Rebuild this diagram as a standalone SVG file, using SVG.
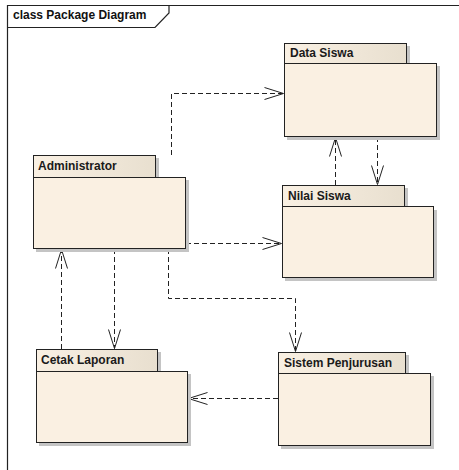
<svg xmlns="http://www.w3.org/2000/svg" width="459" height="470" viewBox="0 0 459 470">
  <defs>
    <linearGradient id="tabg" x1="0" y1="0" x2="1" y2="0">
      <stop offset="0" stop-color="#f9f0e3"/>
      <stop offset="1" stop-color="#e8dfcf"/>
    </linearGradient>
    <marker id="open" markerUnits="userSpaceOnUse" markerWidth="22" markerHeight="16" refX="20" refY="8" orient="auto">
      <path d="M1,2 L20,8 L1,14" fill="none" stroke="#222" stroke-width="1"/>
    </marker>
    <style>
      .frame { fill: none; stroke: #222; stroke-width: 1.2; }
      .title { font-family: "Liberation Sans", Arial, sans-serif; font-weight: bold; font-size: 12px; fill: #111; }
      .shadow { fill: #c4c4c4; }
      .tab { fill: url(#tabg); stroke: #222; stroke-width: 1; }
      .body { fill: #faf0e2; stroke: #222; stroke-width: 1; }
      .label { font-family: "Liberation Sans", Arial, sans-serif; font-weight: bold; font-size: 12px; fill: #1a1a1a; }
      .dep { fill: none; stroke: #222; stroke-width: 1; stroke-dasharray: 5 3; marker-end: url(#open); }
    </style>
  </defs>
  <rect width="459" height="470" fill="#ffffff"/>

  <g id="frame">
    <path class="frame" d="M7.5,475 V5.5 H470"/>
    <path class="frame" d="M7.5,27.5 H155 L169,13 V5.5"/>
    <text class="title" x="13" y="19">class Package Diagram</text>
  </g>

  <g id="connectors">
    <path class="dep" d="M171.5,155 V93.5 H283.5"/>
    <path class="dep" d="M335.5,185 V137.5"/>
    <path class="dep" d="M377.5,137 V184.5"/>
    <path class="dep" d="M186,243.5 H281.5"/>
    <path class="dep" d="M61.5,349 V249.5"/>
    <path class="dep" d="M114.5,249 V348.5"/>
    <path class="dep" d="M168.5,249 V298.5 H295.5 V351.5"/>
    <path class="dep" d="M278,398.5 H188.5"/>
  </g>

  <g id="data-siswa">
    <rect class="shadow" x="287" y="46" width="123" height="20"/>
    <rect class="shadow" x="287" y="66" width="153" height="74"/>
    <rect class="tab" x="284.5" y="43.5" width="122" height="20"/>
    <rect class="body" x="284.5" y="63.5" width="152" height="73"/>
    <text class="label" x="290" y="57">Data Siswa</text>
  </g>

  <g id="administrator">
    <rect class="shadow" x="36" y="158" width="123" height="22"/>
    <rect class="shadow" x="36" y="180" width="153" height="72"/>
    <rect class="tab" x="33.5" y="155.5" width="122" height="22"/>
    <rect class="body" x="33.5" y="177.5" width="152" height="71"/>
    <text class="label" x="38" y="170">Administrator</text>
  </g>

  <g id="nilai-siswa">
    <rect class="shadow" x="285" y="188" width="123" height="22"/>
    <rect class="shadow" x="285" y="210" width="152" height="71"/>
    <rect class="tab" x="282.5" y="185.5" width="122" height="21"/>
    <rect class="body" x="282.5" y="206.5" width="151" height="71"/>
    <text class="label" x="288" y="200">Nilai Siswa</text>
  </g>

  <g id="cetak-laporan">
    <rect class="shadow" x="39" y="352" width="122" height="22"/>
    <rect class="shadow" x="39" y="374" width="152" height="72"/>
    <rect class="tab" x="36.5" y="349.5" width="121" height="22"/>
    <rect class="body" x="36.5" y="371.5" width="151" height="71"/>
    <text class="label" x="41" y="364">Cetak Laporan</text>
  </g>

  <g id="sistem-penjurusan">
    <rect class="shadow" x="281" y="355" width="128" height="21"/>
    <rect class="shadow" x="281" y="376" width="153" height="73"/>
    <rect class="tab" x="278.5" y="352.5" width="127" height="21"/>
    <rect class="body" x="278.5" y="373.5" width="152" height="72"/>
    <text class="label" x="284" y="367">Sistem Penjurusan</text>
  </g>
</svg>
